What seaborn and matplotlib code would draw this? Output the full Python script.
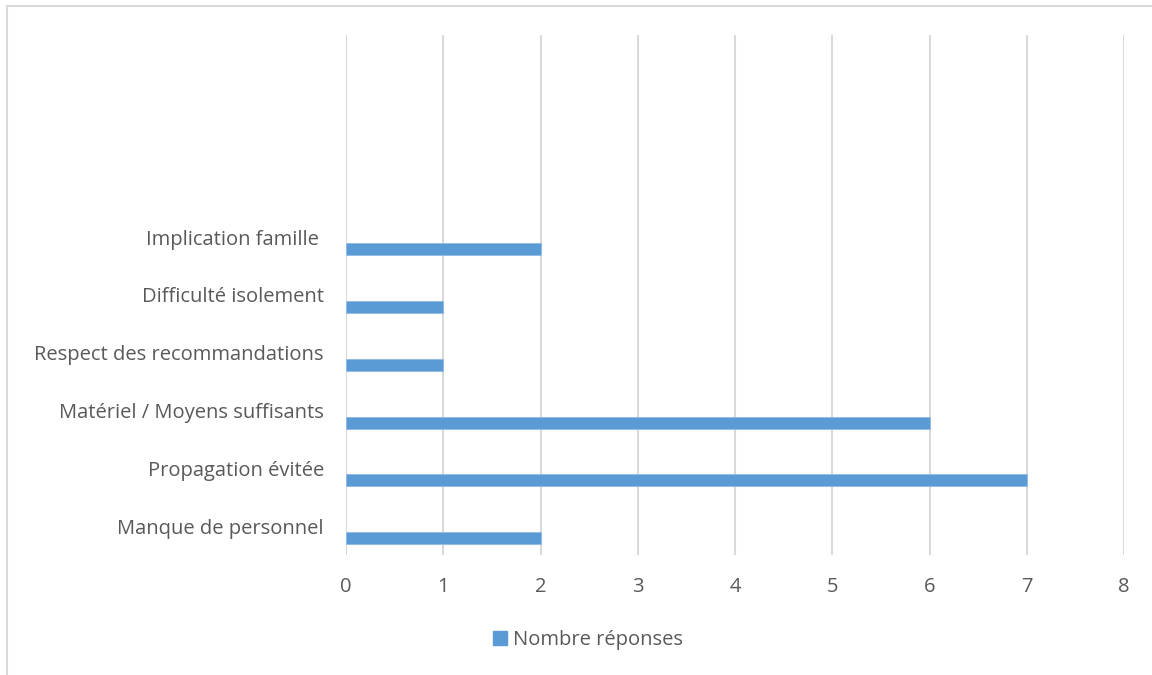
import matplotlib
matplotlib.use("Agg")
import matplotlib.pyplot as plt
import seaborn as sns
import pandas as pd
from matplotlib.lines import Line2D
from matplotlib.patches import Patch

# ---- data ----
categories = ["Implication famille ", "Difficulté isolement", "Respect des recommandations",
              "Matériel / Moyens suffisants", "Propagation évitée", "Manque de personnel"]
values = [2, 1, 1, 6, 7, 2]
empty_slots = [" ", "  ", "   "]          # empty category slots at the top of the chart
series_name = "Nombre réponses"
hidden_series = ["_s1", "_s2"]           # empty series that occupy the other cluster positions
xticks = [0, 1, 2, 3, 4, 5, 6, 7, 8]

df = pd.DataFrame({"cat": categories, "val": values, "series": series_name})

sns.set_theme(style="white")
plt.rcParams["font.family"] = ["Open Sans", "DejaVu Sans"]

fig = plt.figure(figsize=(11.52, 6.75), dpi=100)
ax = fig.add_axes([346/1152, 1 - 555/675, (1124-346)/1152, (555-35)/675])

sns.barplot(data=df, y="cat", x="val", hue="series", orient="h",
            order=empty_slots + categories,
            hue_order=hidden_series + [series_name],
            palette={hidden_series[0]: "#ffffff", hidden_series[1]: "#ffffff", series_name: "#5b9bd5"},
            saturation=1, width=0.623, dodge=True, gap=0, legend=False, ax=ax,
            edgecolor="#8fbbe6", linewidth=0.6, errorbar=None)

ax.set_xlim(0, 8)
ax.set_xticks(xticks)
ax.set_xlabel("")
ax.set_ylabel("")
ax.grid(axis="x", color="#d9d9d9", linewidth=1.5)
ax.grid(axis="y", visible=False)
ax.set_axisbelow(True)
for s in ax.spines.values():
    s.set_visible(False)
ax.tick_params(axis="x", length=0, pad=16, labelsize=14.5, labelcolor="#595959")
ax.tick_params(axis="y", length=0, pad=16, labelsize=14.5, labelcolor="#595959")

handles = [Patch(facecolor="#5b9bd5", edgecolor="#5b9bd5", label=series_name)]
fig.legend(handles=handles, loc="center", bbox_to_anchor=(588/1152, 1 - 640/675),
           frameon=False, fontsize=14.5, labelcolor="#595959",
           handlelength=0.7, handleheight=0.7, handletextpad=0.3)

# chart-area border (top and left edges visible in the reference)
fig.add_artist(Line2D([7/1152, 1], [1 - 6/675, 1 - 6/675], color="#d9d9d9", linewidth=1.5))
fig.add_artist(Line2D([7/1152, 7/1152], [0, 1 - 6/675], color="#d9d9d9", linewidth=1.5))

fig.savefig("out.png", dpi=100)
